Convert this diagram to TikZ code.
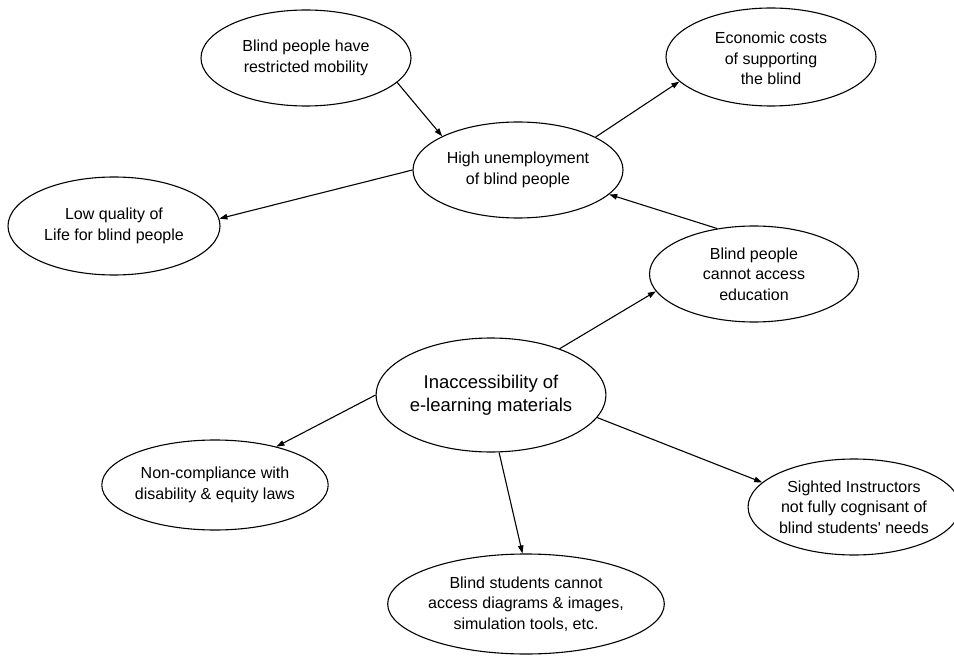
\documentclass[tikz,border=0pt]{standalone}
\usepackage{fontspec}
\setmainfont{Liberation Sans}
\usetikzlibrary{shapes.geometric,arrows.meta}
\begin{document}
\begin{tikzpicture}[x=1pt,y=-1pt,
  bubble/.style={draw=black,line width=1.1pt,ellipse,inner sep=0pt,align=center,
    font=\fontsize{16}{20.5}\selectfont},
  link/.style={line width=1.1pt,-{Triangle[length=8pt,width=5.5pt]}}]
\useasboundingbox (0,0) rectangle (954,658);
\fill[white] (0,0) rectangle (954,658);

% outcome bubbles
\node[bubble,minimum width=210pt,minimum height=96pt] (mob) at (306,58)
  {Blind people have\\restricted mobility};
\node[bubble,minimum width=210pt,minimum height=98pt] (econ) at (771,57)
  {\\[-6pt]Economic costs\\of supporting\\the blind};
\node[bubble,minimum width=210pt,minimum height=96pt] (unemp) at (518,170)
  {High unemployment\\of blind people};
\node[bubble,minimum width=212pt,minimum height=98pt] (life) at (114,226)
  {Low quality of\\Life for blind people};
\node[bubble,minimum width=209pt,minimum height=96pt] (edu) at (754,274)
  {Blind people\\cannot access\\education};

% central problem and its consequences
\node[bubble,minimum width=226pt,minimum height=114pt,
  font=\fontsize{18.5}{23}\selectfont] (inacc) at (491,395)
  {Inaccessibility of\\e-learning materials};
\node[bubble,minimum width=220pt,minimum height=90pt] (laws) at (215,485)
  {Non-compliance with\\disability \& equity laws};
\node[bubble,minimum width=196pt,minimum height=96pt] (instr) at (854,507)
  {Sighted Instructors\\not fully cognisant of\\blind students\textquotesingle\ needs};
\node[bubble,minimum width=216pt,minimum height=100pt] (tools) at (526,604)
  {Blind students cannot\\access diagrams \& images,\\simulation tools, etc.};

% cause and effect links
\draw[link] (mob.-15) -- (unemp.156);
\draw[link] (unemp.180) -- (life.4);
\draw[link] (unemp.23) -- (econ.195);
\draw[link] (edu.129) -- (unemp.-15);
\draw[link] (inacc.34) -- (edu.190);
\draw[link] (inacc.180) -- (laws.32);
\draw[link] (inacc.-12) -- (instr.165);
\draw[link] (inacc.-82) -- (tools.94);
\end{tikzpicture}
\end{document}
